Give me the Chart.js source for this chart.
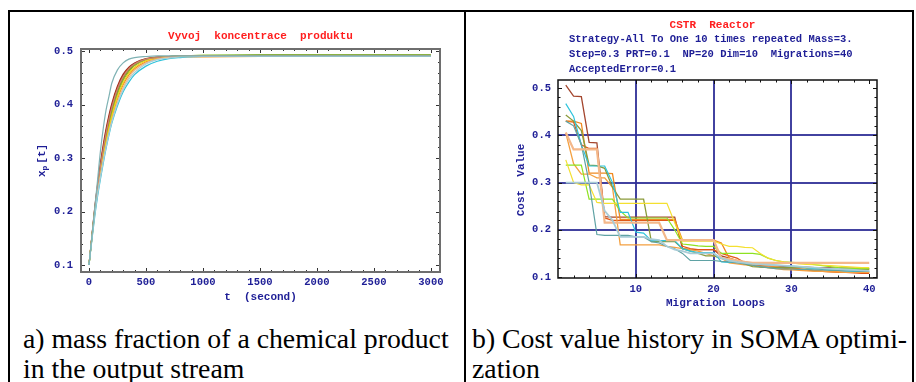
<!DOCTYPE html>
<html><head><meta charset="utf-8">
<script src="https://cdn.jsdelivr.net/npm/chart.js@4.4.0/dist/chart.umd.min.js"></script>
<style>
html,body{margin:0;padding:0;background:#fff;width:916px;height:382px;overflow:hidden;position:relative}
.b{position:absolute;background:#000}
#c1{position:absolute;left:11px;top:12px}
#c2{position:absolute;left:467px;top:12px}
.cap{position:absolute;font-family:"Liberation Serif","Times New Roman",serif;font-size:26.5px;line-height:30px;color:#000;white-space:nowrap;transform:scaleX(1.048);transform-origin:0 0}
</style></head><body>
<div class="b" style="left:8px;top:10px;width:906px;height:2px"></div>
<div class="b" style="left:8px;top:10px;width:2px;height:372px"></div>
<div class="b" style="left:464px;top:10px;width:2px;height:372px"></div>
<div class="b" style="left:912px;top:10px;width:2px;height:372px"></div>
<canvas id="c1" width="452" height="306" style="width:452px;height:306px"></canvas>
<canvas id="c2" width="444" height="306" style="width:444px;height:306px"></canvas>
<div class="cap" style="left:23px;top:324px">a) mass fraction of a chemical product<br>in the output stream</div>
<div class="cap" style="left:472px;top:324px">b) Cost value history in SOMA optimi-<br>zation</div>
<script>
// ---------- data: chart a ----------
const T_SEC = [0,25,50,75,100,125,150,175,200,250,300,350,400,500,600,700,800,1000,1500,2000,3000];
const X1_TICKS = [0,500,1000,1500,2000,2500,3000];
const Y1_TICKS = [0.1,0.2,0.3,0.4,0.5];
const CONC_TEAL   = [0.100,0.152,0.205,0.258,0.312,0.355,0.390,0.415,0.440,0.465,0.478,0.485,0.488,0.490,0.491,0.491,0.491,0.491,0.491,0.491,0.491];
const CONC_DKRED  = [0.100,0.153,0.206,0.250,0.290,0.325,0.355,0.380,0.402,0.435,0.457,0.470,0.478,0.486,0.489,0.490,0.491,0.491,0.491,0.491,0.491];
const CONC_REDOR  = [0.100,0.152,0.204,0.247,0.286,0.320,0.350,0.376,0.398,0.432,0.455,0.469,0.477,0.485,0.489,0.490,0.490,0.490,0.490,0.490,0.490];
const CONC_PINK   = [0.100,0.151,0.202,0.245,0.283,0.316,0.346,0.372,0.394,0.429,0.452,0.467,0.476,0.485,0.488,0.490,0.491,0.491,0.491,0.491,0.491];
const CONC_OLIVE  = [0.100,0.151,0.201,0.243,0.280,0.312,0.341,0.367,0.390,0.425,0.450,0.465,0.475,0.485,0.488,0.490,0.491,0.491,0.492,0.492,0.492];
const CONC_YGREEN = [0.100,0.150,0.200,0.241,0.277,0.309,0.338,0.363,0.386,0.422,0.448,0.464,0.474,0.484,0.488,0.490,0.491,0.492,0.492,0.492,0.492];
const CONC_YELLOW = [0.100,0.149,0.198,0.237,0.272,0.303,0.331,0.356,0.378,0.415,0.441,0.459,0.470,0.482,0.487,0.489,0.490,0.491,0.491,0.491,0.491];
const CONC_TAN    = [0.100,0.148,0.195,0.233,0.266,0.296,0.323,0.347,0.369,0.405,0.432,0.451,0.464,0.478,0.485,0.488,0.489,0.490,0.490,0.490,0.490];
const CONC_LTBLUE = [0.100,0.147,0.193,0.231,0.263,0.293,0.320,0.345,0.367,0.402,0.428,0.447,0.460,0.476,0.484,0.487,0.489,0.490,0.490,0.490,0.490];
const CONC_CYAN   = [0.100,0.146,0.190,0.228,0.260,0.290,0.318,0.343,0.365,0.398,0.424,0.442,0.456,0.472,0.481,0.486,0.488,0.490,0.490,0.490,0.490];
const CONC_GREEN  = [0.100,0.150,0.199,0.240,0.275,0.307,0.336,0.361,0.383,0.420,0.446,0.462,0.473,0.484,0.488,0.490,0.491,0.492,0.493,0.493,0.493];
const CONC_ORANGE = [0.100,0.149,0.197,0.235,0.269,0.299,0.327,0.351,0.373,0.410,0.437,0.455,0.467,0.480,0.486,0.488,0.489,0.489,0.490,0.490,0.490];

// ---------- data: chart b ----------
const LOOPS = [1,2,3,4,5,6,7,8,9,10,11,12,13,14,15,16,17,18,19,20,21,22,23,24,25,26,27,28,29,30,31,32,33,34,35,36,37,38,39,40];
const X2_TICKS = [10,20,30,40];
const Y2_TICKS = [0.1,0.2,0.3,0.4,0.5];
const COST_BROWN  = [.506,.483,.482,.385,.384,.228,.227,.227,.227,.227,.227,.227,.227,.227,.227,.160,.158,.158,.158,.158,.145,.140,.135,.130,.125,.124,.124,.123,.122,.122,.121,.121,.120,.120,.120,.119,.119,.119,.118,.118];
const COST_CYAN   = [.467,.440,.380,.335,.335,.335,.300,.237,.237,.195,.193,.177,.177,.177,.177,.160,.155,.152,.152,.152,.132,.131,.131,.131,.130,.128,.126,.125,.124,.123,.122,.120,.118,.116,.115,.114,.113,.112,.112,.112];
const COST_OLIVE  = [.443,.430,.410,.337,.336,.330,.290,.265,.265,.265,.265,.175,.175,.175,.175,.160,.155,.150,.145,.145,.140,.135,.132,.128,.122,.121,.120,.120,.120,.120,.120,.119,.119,.118,.118,.118,.117,.117,.116,.116];
const COST_ORANGE = [.430,.430,.425,.320,.320,.320,.319,.222,.222,.222,.222,.222,.222,.222,.222,.178,.178,.178,.178,.178,.172,.140,.135,.130,.128,.126,.124,.122,.120,.118,.116,.115,.114,.113,.112,.111,.110,.110,.110,.110];
const COST_REDOR  = [.430,.428,.380,.372,.372,.225,.220,.220,.220,.220,.220,.220,.220,.220,.220,.165,.160,.158,.158,.158,.150,.145,.140,.130,.125,.122,.121,.120,.119,.118,.117,.115,.113,.112,.111,.110,.110,.109,.108,.108];
const COST_PEACH  = [.406,.370,.370,.370,.370,.215,.215,.215,.215,.215,.215,.215,.215,.178,.178,.178,.178,.178,.178,.178,.140,.138,.135,.132,.130,.130,.130,.130,.130,.130,.130,.130,.130,.130,.130,.130,.130,.130,.130,.130];
const COST_YELLOW = [.348,.300,.295,.295,.258,.256,.256,.256,.256,.256,.256,.256,.256,.256,.215,.176,.176,.176,.176,.176,.170,.165,.165,.163,.162,.150,.140,.135,.132,.130,.128,.127,.126,.125,.124,.123,.122,.121,.120,.120];
const COST_YGREEN = [.337,.337,.337,.265,.265,.265,.265,.240,.225,.225,.225,.225,.225,.225,.200,.170,.168,.166,.165,.165,.150,.150,.150,.150,.150,.148,.140,.135,.132,.131,.130,.128,.126,.124,.122,.120,.119,.118,.118,.118];
const COST_TEAL   = [.430,.420,.380,.300,.190,.188,.188,.188,.188,.185,.185,.175,.172,.165,.160,.150,.135,.135,.135,.135,.133,.132,.130,.128,.125,.122,.120,.118,.117,.117,.116,.116,.115,.115,.114,.114,.113,.113,.112,.112];
const COST_LTBLUE = [.300,.300,.300,.300,.300,.240,.220,.185,.185,.185,.185,.180,.178,.165,.158,.155,.150,.150,.150,.150,.140,.135,.132,.130,.128,.127,.126,.125,.124,.123,.122,.121,.120,.119,.118,.117,.116,.115,.114,.113];
const COST_ORANGE2= [.405,.340,.318,.318,.310,.310,.290,.168,.168,.168,.168,.168,.168,.165,.163,.160,.158,.155,.150,.145,.140,.130,.128,.126,.125,.122,.120,.118,.116,.115,.114,.113,.112,.112,.111,.111,.110,.110,.110,.110];

// ---------- texts ----------
const TITLE_A = 'Vyvoj  koncentrace  produktu';
const XTITLE_A = 't  (second)';
const TITLE_B = 'CSTR  Reactor';
const SUBTITLE_B = ['Strategy-All To One 10 times repeated Mass=3.', 'Step=0.3 PRT=0.1  NP=20 Dim=10  Migrations=40', 'AcceptedError=0.1'];
const XTITLE_B = 'Migration Loops';
const YTITLE_B = 'Cost  Value';

// ---------- styling ----------
const MONO = "'Liberation Mono','Courier New',monospace";
const NAVY = '#1e1e96';
const RED = '#ff1e1e';

const leftSeries = [
  [CONC_TEAL,'#7fb2b4'],[CONC_LTBLUE,'#a8cfd8'],[CONC_CYAN,'#2cc2da'],[CONC_TAN,'#f0b888'],
  [CONC_PINK,'#c98270'],[CONC_YELLOW,'#f2d21a'],[CONC_OLIVE,'#8a8a30'],[CONC_YGREEN,'#a6d820'],
  [CONC_DKRED,'#a23424'],[CONC_REDOR,'#e4581a'],[CONC_GREEN,'#5aa020'],[CONC_ORANGE,'#f39020']
];
const rightSeries = [
  [COST_LTBLUE,'#a8ccd6',1.8],[COST_PEACH,'#f4b88a',2.2],[COST_TEAL,'#5fa2a4',1.2],[COST_CYAN,'#2ec4dc',1.2],
  [COST_YELLOW,'#f4e030',1.2],[COST_YGREEN,'#8ee222',1.2],[COST_OLIVE,'#8a9a3a',1.3],[COST_ORANGE2,'#f4a040',1.3],
  [COST_ORANGE,'#f08a20',1.3],[COST_REDOR,'#e05818',1.3],[COST_BROWN,'#a4462e',1.3]
];

const framePlugin = {
  id: 'frame',
  afterDraw(chart, args, o) {
    const ctx = chart.ctx, a = chart.chartArea, xs = chart.scales.x, ys = chart.scales.y;
    ctx.save();
    ctx.strokeStyle = o.tickColor; ctx.lineWidth = 1;
    const eps = 1e-9;
    for (let v = o.xFrom; v <= o.xTo + eps; v += o.xStep) {
      const p = Math.round(xs.getPixelForValue(v)) + 0.5;
      const maj = Math.abs(v / o.xMajor - Math.round(v / o.xMajor)) < 1e-6;
      const L = maj ? o.majLen : o.minLen;
      ctx.beginPath(); ctx.moveTo(p, a.bottom); ctx.lineTo(p, a.bottom - L);
      ctx.moveTo(p, a.top); ctx.lineTo(p, a.top + L); ctx.stroke();
    }
    for (let v = o.yFrom; v <= o.yTo + eps; v += o.yStep) {
      const p = Math.round(ys.getPixelForValue(v)) + 0.5;
      const maj = Math.abs(v / o.yMajor - Math.round(v / o.yMajor)) < 1e-6;
      const L = maj ? o.majLen : o.minLen;
      ctx.beginPath(); ctx.moveTo(a.left, p); ctx.lineTo(a.left + L, p);
      ctx.moveTo(a.right, p); ctx.lineTo(a.right - L, p); ctx.stroke();
    }
    ctx.strokeStyle = o.frameColor; ctx.lineWidth = o.frameWidth;
    ctx.strokeRect(a.left, a.top, a.right - a.left, a.bottom - a.top);
    ctx.textBaseline = 'middle';
    const cx = (a.left + a.right) / 2, cy = (a.top + a.bottom) / 2;
    o.draw(ctx, a, cx, cy);
    ctx.restore();
  }
};

const tickFont = {family: MONO, size: 10.5, weight: 'bold'};
const axisBase = {
  grid: {display: false, drawTicks: false},
  border: {display: false},
  ticks: {font: tickFont, color: NAVY, autoSkip: false, maxRotation: 0}
};

// ---------- chart a ----------
new Chart(document.getElementById('c1'), {
  type: 'line',
  data: {datasets: leftSeries.map(([vals, col]) => ({
    data: T_SEC.map((t, i) => ({x: t, y: vals[i]})),
    borderColor: col, borderWidth: 1.2, pointRadius: 0, fill: false,
    cubicInterpolationMode: 'monotone'
  }))},
  options: {
    responsive: false, animation: false, devicePixelRatio: 1,
    layout: {padding: {left: 0, top: 37, right: 23, bottom: 0}},
    plugins: {legend: {display: false}, tooltip: {enabled: false},
      frame: {tickColor: '#333', frameColor: '#6e6e6e', frameWidth: 2, majLen: 4, minLen: 2,
        xFrom: 0, xTo: 3000, xStep: 100, xMajor: 500, yFrom: 0.1, yTo: 0.5, yStep: 0.02, yMajor: 0.1,
        draw(ctx, a, cx, cy) {
          ctx.textAlign = 'center';
          ctx.fillStyle = RED; ctx.font = "bold 11px " + MONO;
          ctx.fillText(TITLE_A, cx, a.top - 13);
          ctx.fillStyle = NAVY; ctx.font = "bold 11px " + MONO;
          ctx.fillText(XTITLE_A, cx, a.bottom + 25);
          // rotated y title x_p[t]
          ctx.save(); ctx.translate(a.left - 39, cy); ctx.rotate(-Math.PI / 2);
          ctx.textAlign = 'left';
          const f1 = "bold 11px " + MONO, f2 = "bold 8px " + MONO;
          ctx.font = f1; const w1 = ctx.measureText('x').width, w3 = ctx.measureText('[t]').width;
          ctx.font = f2; const w2 = ctx.measureText('p').width;
          let x0 = -(w1 + w2 + w3 + 2) / 2;
          ctx.font = f1; ctx.fillText('x', x0, 0); x0 += w1;
          ctx.font = f2; ctx.fillText('p', x0, 3); x0 += w2 + 2;
          ctx.font = f1; ctx.fillText('[t]', x0, 0);
          ctx.restore();
        }}},
    scales: {
      x: {...axisBase, type: 'linear', min: -70, max: 3080,
        afterBuildTicks: s => { s.ticks = X1_TICKS.map(v => ({value: v})); },
        afterFit: s => { s.height = 46; },
        ticks: {...axisBase.ticks, padding: 4, callback: v => String(v)}},
      y: {...axisBase, type: 'linear', min: 0.087, max: 0.504,
        afterBuildTicks: s => { s.ticks = Y1_TICKS.map(v => ({value: v})); },
        afterFit: s => { s.width = 70; },
        ticks: {...axisBase.ticks, padding: 8, callback: v => v.toFixed(1)}}
    }
  },
  plugins: [framePlugin]
});

// ---------- chart b ----------
const GRID_X = [10, 20, 30];
const GRID_Y = [0.2, 0.3, 0.4];
new Chart(document.getElementById('c2'), {
  type: 'line',
  data: {labels: LOOPS, datasets: rightSeries.map(([vals, col, w]) => ({
    data: LOOPS.map((n, i) => ({x: n, y: vals[i]})),
    borderColor: col, borderWidth: w, pointRadius: 0, fill: false, tension: 0
  }))},
  options: {
    responsive: false, animation: false, devicePixelRatio: 1,
    layout: {padding: {left: 0, top: 68, right: 34, bottom: 0}},
    plugins: {legend: {display: false}, tooltip: {enabled: false},
      frame: {tickColor: '#111', frameColor: '#111', frameWidth: 1.5, majLen: 4, minLen: 2.5,
        xFrom: 2, xTo: 40, xStep: 2, xMajor: 10, yFrom: 0.1, yTo: 0.5, yStep: 0.02, yMajor: 0.1,
        draw(ctx, a, cx, cy) {
          ctx.textAlign = 'center';
          ctx.fillStyle = RED; ctx.font = "bold 11px " + MONO;
          ctx.fillText(TITLE_B, cx - 5, a.top - 55);
          ctx.fillStyle = NAVY; ctx.font = "bold 10.5px " + MONO;
          ctx.textAlign = 'left';
          const dy = [-41, -26, -11];
          SUBTITLE_B.forEach((s, i) => ctx.fillText(s, a.left + 11, a.top + dy[i]));
          ctx.textAlign = 'center'; ctx.font = "bold 11px " + MONO;
          ctx.fillText(XTITLE_B, cx - 2, a.bottom + 25);
          ctx.save(); ctx.translate(a.left - 37, cy + 1); ctx.rotate(-Math.PI / 2);
          ctx.fillText(YTITLE_B, 0, 0);
          ctx.restore();
        }}},
    scales: {
      x: {...axisBase, type: 'linear', min: 0, max: 41,
        grid: {display: true, drawTicks: false, lineWidth: 2,
          color: c => GRID_X.includes(c.tick && c.tick.value) ? 'rgba(45,45,150,0.9)' : 'rgba(0,0,0,0)'},
        afterBuildTicks: s => { s.ticks = X2_TICKS.concat(GRID_X.filter(v => !X2_TICKS.includes(v))).map(v => ({value: v})); },
        afterFit: s => { s.height = 40; },
        ticks: {...axisBase.ticks, padding: 5, callback: v => String(v)}},
      y: {...axisBase, type: 'linear', min: 0.098, max: 0.517,
        grid: {display: true, drawTicks: false, lineWidth: 2,
          color: c => (c.tick && GRID_Y.some(g => Math.abs(g - c.tick.value) < 1e-6)) ? 'rgba(45,45,150,0.9)' : 'rgba(0,0,0,0)'},
        afterBuildTicks: s => { s.ticks = Y2_TICKS.map(v => ({value: v})); },
        afterFit: s => { s.width = 91; },
        ticks: {...axisBase.ticks, padding: 7, callback: v => v.toFixed(1)}}
    }
  },
  plugins: [framePlugin]
});
</script>
</body></html>
